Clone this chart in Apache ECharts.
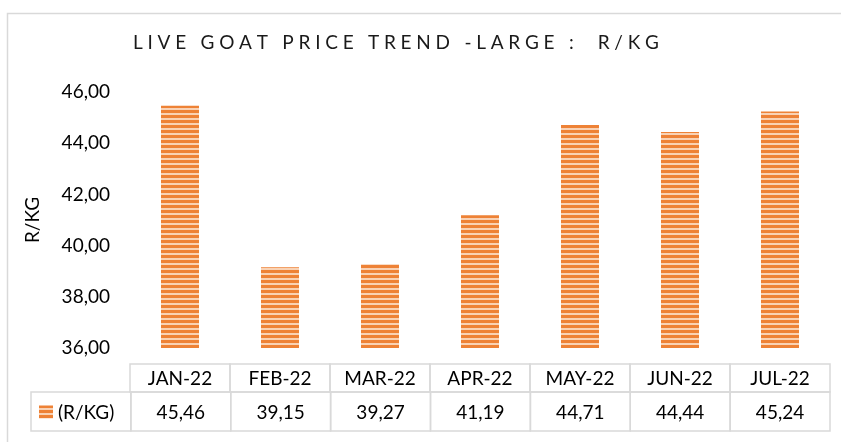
<!DOCTYPE html>
<html>
<head>
<meta charset="utf-8">
<script src="https://cdn.jsdelivr.net/npm/echarts@6/dist/echarts.min.js"></script>
<style>
html,body{margin:0;padding:0;background:#fff;}
#chart{width:841px;height:442px;}
</style>
</head>
<body>
<div id="chart"></div>
<script>
// data
var months = ['JAN-22','FEB-22','MAR-22','APR-22','MAY-22','JUN-22','JUL-22'];
var prices = [45.46, 39.15, 39.27, 41.19, 44.71, 44.44, 45.24];
var yMin = 36, yMax = 46, yStep = 2;
var seriesName = '(R/KG)';
var axisName = 'R/KG';
var titleText = 'LIVE GOAT PRICE TREND -LARGE :  R/KG';

var FONT = 'Lato';

function fmt(v){
	return Number(v).toFixed(2).replace('.', ',');
}

// spaced out title like the excel char spacing
function spaced(s){
	return s.split('').join('\u2005');
}

// striped fill for the bars
function stripeCanvas(){
	var c = document.createElement('canvas');
	c.width = 4; c.height = 5;
	var g = c.getContext('2d');
	g.fillStyle = '#F9D2B4';
	g.fillRect(0,0,4,5);
	g.fillStyle = '#EE8236';
	g.fillRect(0,0,4,3);
	return c;
}
var pattern = {image: stripeCanvas(), repeat: 'repeat'};

var lineColor = '#d9d9d9';

function headerCell(params, api){
	var c = api.coord([api.value(0), api.value(1)]);
	var s = api.size([1, 1]);
	return {
		type: 'group',
		children: [
			{type: 'rect', shape: {x: c[0]-s[0]/2, y: c[1]-s[1]/2, width: s[0], height: s[1]},
				style: {fill: 'none', stroke: lineColor, lineWidth: 1.5}},
			{type: 'text', x: c[0], y: c[1]+1,
				style: {text: months[params.dataIndex], fill: '#000', font: '19px ' + FONT, align: 'center', verticalAlign: 'middle'}}
		]
	};
}

function valueCell(params, api){
	var c = api.coord([api.value(0), api.value(1)]);
	var s = api.size([1, 1]);
	var i = params.dataIndex;
	var kids = [
		{type: 'rect', shape: {x: c[0]-s[0]/2, y: c[1]-s[1]/2, width: s[0], height: s[1]},
			style: {fill: 'none', stroke: lineColor, lineWidth: 1.5}}
	];
	if(i === 0){
		var x0 = c[0]-s[0]/2;
		kids.push({type: 'rect', shape: {x: x0+8, y: c[1]-6, width: 14, height: 13}, style: {fill: pattern}});
		kids.push({type: 'text', x: x0+27, y: c[1]+1,
			style: {text: seriesName, fill: '#000', font: '19px ' + FONT, align: 'left', verticalAlign: 'middle'}});
	}else{
		kids.push({type: 'text', x: c[0], y: c[1]+1,
			style: {text: fmt(prices[i-1]), fill: '#000', font: '19px ' + FONT, align: 'center', verticalAlign: 'middle'}});
	}
	return {type: 'group', children: kids};
}

var myChart = echarts.init(document.getElementById('chart'), null, {renderer: 'canvas'});

var option = {
	animation: false,
	backgroundColor: '#fff',
	textStyle: {fontFamily: FONT},
	graphic: [{
		type: 'rect', left: 5, top: 11, shape: {width: 860, height: 460},
		style: {fill: 'none', stroke: lineColor, lineWidth: 1.5}, silent: true
	}],
	title: {
		text: spaced(titleText),
		left: 128,
		top: 28,
		textStyle: {fontFamily: FONT, fontSize: 19, fontWeight: 'normal', color: '#1a1a1a'}
	},
	grid: [
		{left: 130, right: 11, top: 92, height: 256},
		{left: 130, right: 11, top: 364, height: 28},
		{left: 31, right: 11, top: 392, height: 39}
	],
	xAxis: [
		{gridIndex: 0, type: 'category', data: months,
			axisLine: {show: false}, axisTick: {show: false}, axisLabel: {show: false}},
		{gridIndex: 1, type: 'category', data: months, show: false},
		{gridIndex: 2, type: 'category', data: [seriesName].concat(months), show: false}
	],
	yAxis: [
		{gridIndex: 0, type: 'value', min: yMin, max: yMax, interval: yStep,
			name: axisName, nameLocation: 'middle', nameGap: 88,
			nameTextStyle: {fontFamily: FONT, fontSize: 19, color: '#000'},
			axisLine: {show: false}, axisTick: {show: false}, splitLine: {show: false},
			axisLabel: {formatter: fmt, fontFamily: FONT, fontSize: 19, color: '#000', margin: 20}},
		{gridIndex: 1, type: 'category', data: ['h'], show: false},
		{gridIndex: 2, type: 'category', data: ['v'], show: false}
	],
	series: [
		{
			name: seriesName, type: 'bar', xAxisIndex: 0, yAxisIndex: 0,
			barWidth: '38%',
			itemStyle: {color: pattern},
			data: prices
		},
		{
			type: 'custom', xAxisIndex: 1, yAxisIndex: 1, silent: true,
			renderItem: headerCell,
			data: months.map(function(m, i){ return [i, 0]; })
		},
		{
			type: 'custom', xAxisIndex: 2, yAxisIndex: 2, silent: true,
			renderItem: valueCell,
			data: [0].concat(prices.map(function(p, i){ return i+1; })).map(function(k){ return [k, 0]; })
		}
	]
};

myChart.setOption(option);
</script>
</body>
</html>
